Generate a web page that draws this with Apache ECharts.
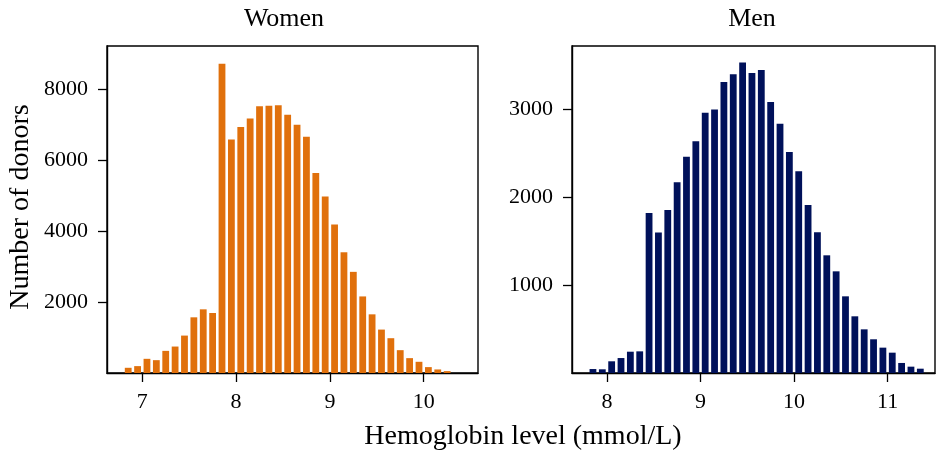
<!DOCTYPE html>
<html>
<head>
<meta charset="utf-8">
<script src="https://cdn.jsdelivr.net/npm/echarts@6/dist/echarts.min.js"></script>
<style>
html,body{margin:0;padding:0;background:#fff;}
#c{width:937px;height:452px;}
</style>
</head>
<body>
<div id="c"></div>
<script>
// Women: bin centres (mmol/L) and donor counts
var womenBins = [6.85,6.95,7.05,7.15,7.25,7.35,7.45,7.55,7.65,7.75,7.85,7.95,8.05,8.15,8.25,8.35,8.45,8.55,8.65,8.75,8.85,8.95,9.05,9.15,9.25,9.35,9.45,9.55,9.65,9.75,9.85,9.95,10.05,10.15,10.25];
var womenCounts = [147,194,400,362,624,746,1055,1570,1795,1692,8720,6586,6933,7176,7523,7533,7551,7280,7000,6661,5641,4976,4190,3404,2852,2159,1654,1224,981,644,419,316,166,100,53];
// Men: bin centres (mmol/L) and donor counts
var menBins = [7.85,7.95,8.05,8.15,8.25,8.35,8.45,8.55,8.65,8.75,8.85,8.95,9.05,9.15,9.25,9.35,9.45,9.55,9.65,9.75,9.85,9.95,10.05,10.15,10.25,10.35,10.45,10.55,10.65,10.75,10.85,10.95,11.05,11.15,11.25,11.35];
var menCounts = [45,42,133,170,242,246,1818,1595,1852,2167,2458,2633,2958,2993,3307,3394,3527,3409,3443,3080,2833,2511,2292,1909,1599,1337,1155,871,644,496,383,288,231,114,72,49];
// Tick labels
var womenXTicks = [7,8,9,10];
var menXTicks = [8,9,10,11];
var womenYTicks = [2000,4000,6000,8000];
var menYTicks = [1000,2000,3000];
var titles = ['Women','Men'];
var xLabel = 'Hemoglobin level (mmol/L)';
var yLabel = 'Number of donors';

var FONT = '"Liberation Serif", "Times New Roman", serif';
function pairs(xs, ys){ return xs.map(function(x,i){ return [x, ys[i]]; }); }
function plain(v){ return String(v); }

function xAxisCfg(gi, min, max, ticks){
  return {
    type:'value', gridIndex:gi, min:min, max:max,
    axisLine:{show:true, lineStyle:{color:'#000', width:1.4}},
    axisTick:{show:true, length:9, inside:false, lineStyle:{color:'#000', width:1.3}, customValues:ticks},
    axisLabel:{show:true, margin:18, color:'#000', fontFamily:FONT, fontSize:22, customValues:ticks, formatter:plain},
    splitLine:{show:false}
  };
}
function yAxisCfg(gi, min, max, ticks){
  return {
    type:'value', gridIndex:gi, min:min, max:max,
    axisLine:{show:true, lineStyle:{color:'#000', width:1.4}},
    axisTick:{show:true, length:9, inside:false, lineStyle:{color:'#000', width:1.3}, customValues:ticks},
    axisLabel:{show:true, margin:19, color:'#000', fontFamily:FONT, fontSize:22, customValues:ticks, formatter:plain},
    splitLine:{show:false}
  };
}

var chart = echarts.init(document.getElementById('c'), null, {renderer:'canvas'});
chart.setOption({
  animation:false,
  backgroundColor:'#fff',
  grid:[
    {left:107, top:46, width:371, height:327, show:true, borderColor:'#000', borderWidth:1.4, backgroundColor:'transparent', containLabel:false, outerBoundsMode:'none'},
    {left:572, top:46, width:363, height:327, show:true, borderColor:'#000', borderWidth:1.4, backgroundColor:'transparent', containLabel:false, outerBoundsMode:'none'}
  ],
  xAxis:[
    xAxisCfg(0, 6.624, 10.579, womenXTicks),
    xAxisCfg(1, 7.626, 11.507, menXTicks)
  ],
  yAxis:[
    yAxisCfg(0, 0, 9220, womenYTicks),
    yAxisCfg(1, 0, 3715, menYTicks)
  ],
  series:[
    {type:'bar', xAxisIndex:0, yAxisIndex:0, data:pairs(womenBins, womenCounts), barWidth:6.8,
     itemStyle:{color:'#e0700c'}, emphasis:{disabled:true}},
    {type:'bar', xAxisIndex:1, yAxisIndex:1, data:pairs(menBins, menCounts), barWidth:6.8,
     itemStyle:{color:'#00115a'}, emphasis:{disabled:true}}
  ],
  graphic:[
    {type:'text', x:284, y:19, style:{text:titles[0], font:'26px '+FONT, fill:'#000', textAlign:'center', textVerticalAlign:'middle'}},
    {type:'text', x:752, y:19, style:{text:titles[1], font:'26px '+FONT, fill:'#000', textAlign:'center', textVerticalAlign:'middle'}},
    {type:'text', x:523, y:437, style:{text:xLabel, font:'28px '+FONT, fill:'#000', textAlign:'center', textVerticalAlign:'middle'}},
    {type:'text', x:21, y:207, rotation:Math.PI/2, style:{text:yLabel, font:'28px '+FONT, fill:'#000', textAlign:'center', textVerticalAlign:'middle'}}
  ]
});
</script>
</body>
</html>
